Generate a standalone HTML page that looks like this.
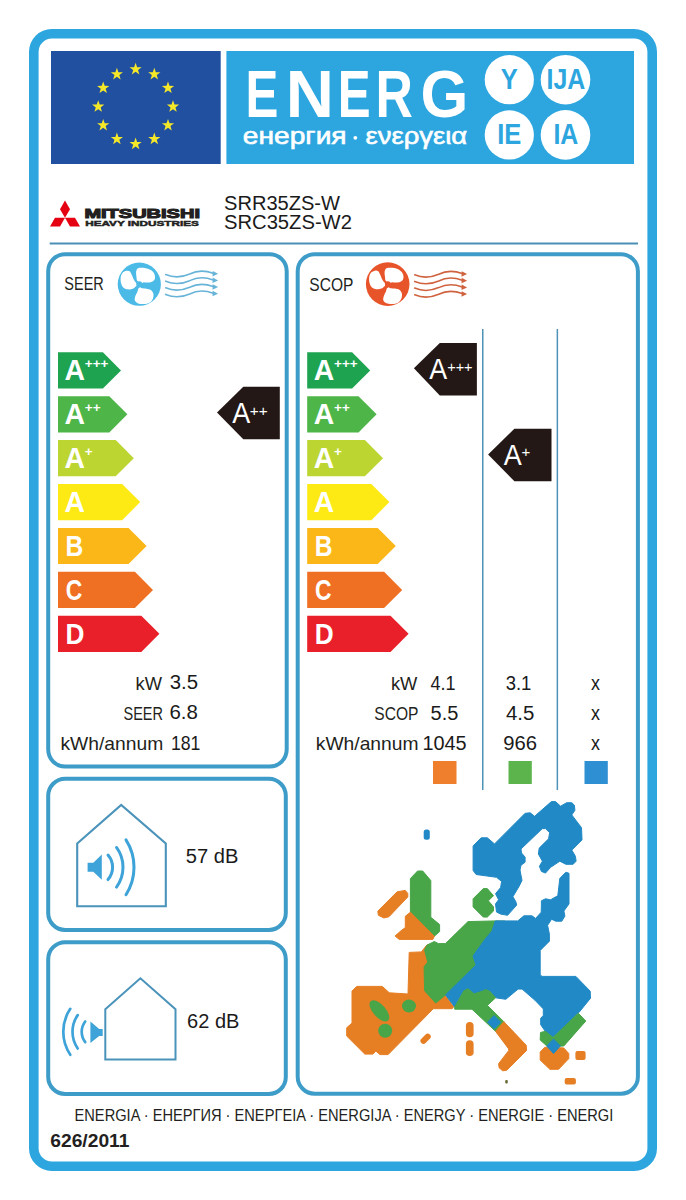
<!DOCTYPE html>
<html><head><meta charset="utf-8">
<style>
html,body{margin:0;padding:0;background:#fff;}
body{width:686px;height:1200px;overflow:hidden;}
svg{display:block;}
text{font-family:"Liberation Sans",sans-serif;}
.al{font-size:27.5px;font-weight:bold;fill:#fff;}
.sp{font-size:13.5px;font-weight:bold;fill:#fff;}
</style></head>
<body>
<svg width="686" height="1200" viewBox="0 0 686 1200">
<defs>
<path id="st" d="M0.00,-6.40 L1.50,-2.06 L6.09,-1.98 L2.43,0.79 L3.76,5.18 L0.00,2.55 L-3.76,5.18 L-2.43,0.79 L-6.09,-1.98 L-1.50,-2.06Z" fill="#f5e829"/>
<g id="fan">
<path d="M-1.92,-3.21 C-2.83,-4.28 -2.67,-6.20 -2.89,-7.70 C-3.10,-9.19 -3.37,-10.90 -3.21,-12.19 C-3.05,-13.47 -2.67,-14.70 -1.92,-15.39 C-1.18,-16.09 -0.11,-16.25 1.28,-16.36 C2.67,-16.46 4.70,-16.41 6.41,-16.04 C8.12,-15.66 10.16,-14.97 11.55,-14.11 C12.94,-13.26 14.06,-12.08 14.75,-10.90 C15.45,-9.73 15.72,-8.23 15.72,-7.06 C15.72,-5.88 15.45,-4.70 14.75,-3.85 C14.06,-2.99 12.83,-2.30 11.55,-1.92 C10.26,-1.55 8.23,-1.60 7.06,-1.60 C5.88,-1.60 5.24,-1.98 4.49,-1.92 C3.74,-1.87 3.63,-1.07 2.57,-1.28 C1.50,-1.50 -1.02,-2.14 -1.92,-3.21Z" fill="#fff"/>
<path d="M-2.89,-0.96 C-3.34,-1.84 -4.33,-2.41 -5.13,-3.85 C-5.93,-5.29 -6.95,-8.12 -7.70,-9.62 C-8.45,-11.12 -8.77,-12.19 -9.62,-12.83 C-10.48,-13.47 -11.65,-13.68 -12.83,-13.47 C-14.00,-13.26 -15.72,-12.61 -16.68,-11.55 C-17.64,-10.48 -18.33,-8.77 -18.60,-7.06 C-18.87,-5.35 -18.71,-2.99 -18.28,-1.28 C-17.85,0.43 -17.16,2.14 -16.04,3.21 C-14.91,4.28 -13.15,4.92 -11.55,5.13 C-9.94,5.35 -7.70,4.92 -6.41,4.49 C-5.13,4.06 -4.51,3.08 -3.85,2.57 C-3.19,2.05 -2.60,2.00 -2.44,1.41 C-2.28,0.82 -2.44,-0.09 -2.89,-0.96Z" fill="#fff"/>
<path d="M0.96,3.08 C1.55,3.03 1.55,3.93 2.57,4.17 C3.58,4.40 5.56,4.22 7.06,4.49 C8.55,4.76 10.37,4.92 11.55,5.77 C12.72,6.63 13.79,8.12 14.11,9.62 C14.43,11.12 14.11,13.26 13.47,14.75 C12.83,16.25 11.76,17.75 10.26,18.60 C8.77,19.46 6.41,19.78 4.49,19.88 C2.57,19.99 0.21,19.88 -1.28,19.24 C-2.78,18.60 -4.06,17.32 -4.49,16.04 C-4.92,14.75 -4.28,12.94 -3.85,11.55 C-3.42,10.16 -2.41,8.87 -1.92,7.70 C-1.44,6.52 -1.44,5.26 -0.96,4.49 C-0.48,3.72 0.37,3.13 0.96,3.08Z" fill="#fff"/>
</g>
<g id="waves">
<path d="M0,0.0 C7,3.0 16,3.0 24,-0.5 C31,-4.0 40,-4.0 47.5,-1.2" fill="none" stroke-width="1.6" stroke-linecap="round"/>
<path d="M47,-3.6 L52.4,-0.7 L46.8,1.9 Z" stroke="none"/>
<path d="M0,6.65 C7,9.65 16,9.65 24,6.15 C31,2.6500000000000004 40,2.6500000000000004 47.5,5.45" fill="none" stroke-width="1.6" stroke-linecap="round"/>
<path d="M47,3.0500000000000003 L52.4,5.95 L46.8,8.55 Z" stroke="none"/>
<path d="M0,13.3 C7,16.3 16,16.3 24,12.8 C31,9.3 40,9.3 47.5,12.100000000000001" fill="none" stroke-width="1.6" stroke-linecap="round"/>
<path d="M47,9.700000000000001 L52.4,12.600000000000001 L46.8,15.200000000000001 Z" stroke="none"/>
<path d="M0,19.95 C7,22.95 16,22.95 24,19.45 C31,15.95 40,15.95 47.5,18.75" fill="none" stroke-width="1.6" stroke-linecap="round"/>
<path d="M47,16.349999999999998 L52.4,19.25 L46.8,21.849999999999998 Z" stroke="none"/>
</g>
</defs>

<!-- outer frame -->
<rect x="33.8" y="33.8" width="618.4" height="1132.4" rx="18" ry="18" fill="none" stroke="#2da6df" stroke-width="9.6"/>

<!-- EU flag -->
<rect x="51" y="51" width="169.7" height="113" fill="#2250a0"/>
<g transform="translate(51,51)">
<use href="#st" x="84.6" y="18.2"/><use href="#st" x="103.3" y="23.2"/><use href="#st" x="117" y="36.9"/>
<use href="#st" x="122" y="55.6"/><use href="#st" x="117" y="74.3"/><use href="#st" x="103.3" y="88"/>
<use href="#st" x="84.6" y="93"/><use href="#st" x="65.9" y="88"/><use href="#st" x="52.2" y="74.3"/>
<use href="#st" x="47.2" y="55.6"/><use href="#st" x="52.2" y="36.9"/><use href="#st" x="65.9" y="23.2"/>
</g>

<!-- energy banner -->
<rect x="226.4" y="51" width="407.6" height="113" fill="#2da6df"/>
<text transform="translate(245.45,116.8) scale(0.731,1)" font-size="67.4" font-weight="bold" fill="#fff">E</text>
<text transform="translate(285.63,116.8) scale(0.990,1)" font-size="67.4" font-weight="bold" fill="#fff">N</text>
<text transform="translate(337.75,116.8) scale(0.731,1)" font-size="67.4" font-weight="bold" fill="#fff">E</text>
<text transform="translate(375.38,116.8) scale(0.768,1)" font-size="67.4" font-weight="bold" fill="#fff">R</text>
<text transform="translate(420.44,116.8) scale(0.912,1)" font-size="67.4" font-weight="bold" fill="#fff">G</text>
<text transform="translate(242.83,143.90) scale(1.164,1)" font-size="24.20" fill="#fff" stroke="#fff" stroke-width="0.6">енергия</text>
<circle cx="355.3" cy="137.8" r="1.9" fill="#fff"/>
<text transform="translate(365.44,144.10) scale(1.135,1)" font-size="24.20" fill="#fff" stroke="#fff" stroke-width="0.6">ενεργεια</text>
<g fill="#fff">
<circle cx="509.3" cy="79.7" r="24.6"/><circle cx="565.5" cy="79.7" r="24.8"/>
<circle cx="509.3" cy="134.9" r="24.6"/><circle cx="565.5" cy="134.9" r="24.8"/>
</g>
<g fill="#2da6df" font-size="29" font-weight="bold" text-anchor="middle">
<text transform="translate(509.2,88.9) scale(0.88,1)">Y</text><text transform="translate(565.9,88.9) scale(0.86,1)">IJA</text>
<text transform="translate(509.2,144) scale(0.88,1)">IE</text><text transform="translate(565.9,144) scale(0.86,1)">IA</text>
</g>

<!-- Mitsubishi logo -->
<g fill="#e50012" transform="translate(65,217.8)">
<path d="M0,-17.32 L5,-8.66 L0,0 L-5,-8.66 Z"/>
<path d="M0,0 L10,0 L15,8.66 L5,8.66 Z"/>
<path d="M0,0 L-10,0 L-15,8.66 L-5,8.66 Z"/>
</g>
<text transform="translate(84.40,217.97) scale(1.597,1)" font-size="12.54" font-weight="bold" fill="#231f20" stroke="#231f20" stroke-width="1.0">MITSUBISHI</text>
<text transform="translate(85.19,226.37) scale(1.463,1)" font-size="8.03" font-weight="bold" fill="#231f20" stroke="#231f20" stroke-width="0.5">HEAVY INDUSTRIES</text>

<!-- model -->
<text transform="translate(224.00,209.89) scale(0.977,1)" font-size="20.56" fill="#1a1a1a">SRR35ZS-W</text>
<text transform="translate(223.99,229.20) scale(1.010,1)" font-size="20.00" fill="#1a1a1a">SRC35ZS-W2</text>
<rect x="49.7" y="242.5" width="588.3" height="2" fill="#4a8fb6"/>

<!-- panels -->
<g fill="none" stroke="#3e9cc8" stroke-width="4">
<rect x="48.2" y="254.2" width="238.5" height="512.4" rx="17"/>
<rect x="297.7" y="254.2" width="340.2" height="839.5" rx="17"/>
<rect x="48.2" y="778.8" width="237.6" height="151.2" rx="17"/>
<rect x="48.2" y="942.2" width="237.6" height="151.8" rx="17"/>
</g>

<!-- SEER header -->
<text transform="translate(64.35,290.42) scale(0.804,1)" font-size="18.03" fill="#231f20">SEER</text>
<circle cx="139.3" cy="284.2" r="21.6" fill="#4bbae6"/>
<use href="#fan" transform="translate(139.3,284.2)"/>
<circle cx="139.3" cy="284.2" r="2.9" fill="#4bbae6"/>
<g stroke="#68b4d8" fill="#68b4d8"><use href="#waves" transform="translate(165.7,274.5)"/></g>

<!-- SCOP header -->
<text transform="translate(309.30,290.62) scale(0.862,1)" font-size="18.03" fill="#231f20">SCOP</text>
<circle cx="387.7" cy="284.1" r="21.8" fill="#e8542a"/>
<use href="#fan" transform="translate(387.8,284.1)"/>
<circle cx="387.8" cy="284.1" r="2.9" fill="#e8542a"/>
<g stroke="#d0633f" fill="#d0633f"><use href="#waves" transform="translate(414.7,274.8)"/></g>

<!-- column lines -->
<g fill="#4e92b8"><rect x="482" y="329" width="1.5" height="461"/><rect x="556.6" y="329" width="1.5" height="461"/></g>

<!-- arrows -->
<path d="M58,352.3 H102.9 L121.0,370.4 L102.9,388.5 H58 Z" fill="#1ea351"/>
<text transform="translate(64.59,380.30) scale(0.978,1)" font-size="29.00" font-weight="bold" fill="#fff">A</text>
<text x="84.8" y="367.7" class="sp">+++</text>
<path d="M58,396.2 H109.3 L127.4,414.3 L109.3,432.4 H58 Z" fill="#4eb548"/>
<text transform="translate(64.59,424.20) scale(0.978,1)" font-size="29.00" font-weight="bold" fill="#fff">A</text>
<text x="84.8" y="411.6" class="sp">++</text>
<path d="M58,440.1 H115.7 L133.8,458.2 L115.7,476.3 H58 Z" fill="#bdd531"/>
<text transform="translate(64.59,468.10) scale(0.978,1)" font-size="29.00" font-weight="bold" fill="#fff">A</text>
<text x="84.8" y="455.5" class="sp">+</text>
<path d="M58,484.0 H122.1 L140.2,502.1 L122.1,520.2 H58 Z" fill="#fdea14"/>
<text transform="translate(64.59,512.00) scale(0.978,1)" font-size="29.00" font-weight="bold" fill="#fff">A</text>
<path d="M58,527.9 H128.5 L146.6,546.0 L128.5,564.1 H58 Z" fill="#fbb618"/>
<text transform="translate(65.60,555.90) scale(0.848,1)" font-size="29.00" font-weight="bold" fill="#fff">B</text>
<path d="M58,571.8 H134.9 L153.0,589.9 L134.9,608.0 H58 Z" fill="#f07023"/>
<text transform="translate(65.78,599.50) scale(0.790,1)" font-size="29.00" font-weight="bold" fill="#fff">C</text>
<path d="M58,615.7 H141.3 L159.4,633.8 L141.3,651.9 H58 Z" fill="#e9202a"/>
<text transform="translate(65.50,643.70) scale(0.903,1)" font-size="29.00" font-weight="bold" fill="#fff">D</text>
<path d="M307.2,352.3 H352.1 L370.2,370.4 L352.1,388.5 H307.2 Z" fill="#1ea351"/>
<text transform="translate(313.79,380.30) scale(0.978,1)" font-size="29.00" font-weight="bold" fill="#fff">A</text>
<text x="334.0" y="367.7" class="sp">+++</text>
<path d="M307.2,396.2 H358.5 L376.6,414.3 L358.5,432.4 H307.2 Z" fill="#4eb548"/>
<text transform="translate(313.79,424.20) scale(0.978,1)" font-size="29.00" font-weight="bold" fill="#fff">A</text>
<text x="334.0" y="411.6" class="sp">++</text>
<path d="M307.2,440.1 H364.9 L383.0,458.2 L364.9,476.3 H307.2 Z" fill="#bdd531"/>
<text transform="translate(313.79,468.10) scale(0.978,1)" font-size="29.00" font-weight="bold" fill="#fff">A</text>
<text x="334.0" y="455.5" class="sp">+</text>
<path d="M307.2,484.0 H371.3 L389.4,502.1 L371.3,520.2 H307.2 Z" fill="#fdea14"/>
<text transform="translate(313.79,512.00) scale(0.978,1)" font-size="29.00" font-weight="bold" fill="#fff">A</text>
<path d="M307.2,527.9 H377.7 L395.8,546.0 L377.7,564.1 H307.2 Z" fill="#fbb618"/>
<text transform="translate(314.80,555.90) scale(0.848,1)" font-size="29.00" font-weight="bold" fill="#fff">B</text>
<path d="M307.2,571.8 H384.1 L402.2,589.9 L384.1,608.0 H307.2 Z" fill="#f07023"/>
<text transform="translate(314.98,599.50) scale(0.790,1)" font-size="29.00" font-weight="bold" fill="#fff">C</text>
<path d="M307.2,615.7 H390.5 L408.6,633.8 L390.5,651.9 H307.2 Z" fill="#e9202a"/>
<text transform="translate(314.70,643.70) scale(0.903,1)" font-size="29.00" font-weight="bold" fill="#fff">D</text>

<!-- pointers -->
<g fill="#231815">
<path d="M217,412.4 L243.3,386.8 H279.8 V439.3 H243.3 Z"/>
<path d="M413.9,368.3 L439.8,343.1 H476.9 V395.6 H439.8 Z"/>
<path d="M488.1,454.4 L514.4,428.8 H551.5 V481.3 H514.4 Z"/>
</g>
<g>
<text transform="translate(232.17,422.70) scale(0.912,1)" font-size="29.57" fill="#fff">A</text>
<text transform="translate(249.73,415.60) scale(1.022,1)" font-size="15.00" fill="#fff">++</text>
<text transform="translate(429.27,378.50) scale(0.903,1)" font-size="29.71" fill="#fff">A</text>
<text transform="translate(447.17,372.20) scale(0.967,1)" font-size="15.00" fill="#fff">+++</text>
<text transform="translate(503.67,464.80) scale(0.908,1)" font-size="29.71" fill="#fff">A</text>
<text transform="translate(521.45,457.30) scale(1.003,1)" font-size="15.00" fill="#fff">+</text>
</g>

<!-- values -->
<text transform="translate(135.61,689.60) scale(1.030,1)" font-size="17.80" fill="#231f20">kW</text>
<text transform="translate(123.45,719.80) scale(0.816,1)" font-size="17.80" fill="#231f20">SEER</text>
<text transform="translate(60.45,749.60) scale(1.083,1)" font-size="17.80" fill="#231f20">kWh/annum</text>
<text transform="translate(390.91,690.00) scale(1.030,1)" font-size="17.80" fill="#231f20">kW</text>
<text transform="translate(374.30,720.20) scale(0.875,1)" font-size="17.80" fill="#231f20">SCOP</text>
<text transform="translate(315.75,750.20) scale(1.083,1)" font-size="17.80" fill="#231f20">kWh/annum</text>
<text transform="translate(169.68,688.50) scale(1.004,1)" font-size="20.30" fill="#1a1a1a">3.5</text>
<text transform="translate(169.48,718.70) scale(1.008,1)" font-size="20.30" fill="#1a1a1a">6.8</text>
<text transform="translate(170.88,749.90) scale(0.870,1)" font-size="20.30" fill="#1a1a1a">181</text>
<text transform="translate(430.45,690.40) scale(0.888,1)" font-size="20.30" fill="#1a1a1a">4.1</text>
<text transform="translate(430.60,720.10) scale(0.985,1)" font-size="20.30" fill="#1a1a1a">5.5</text>
<text transform="translate(422.41,749.90) scale(0.981,1)" font-size="20.30" fill="#1a1a1a">1045</text>
<text transform="translate(505.66,690.40) scale(0.909,1)" font-size="20.30" fill="#1a1a1a">3.1</text>
<text transform="translate(505.89,720.10) scale(1.008,1)" font-size="20.30" fill="#1a1a1a">4.5</text>
<text transform="translate(503.29,749.90) scale(0.998,1)" font-size="20.30" fill="#1a1a1a">966</text>
<text transform="translate(591.03,690.40) scale(0.882,1)" font-size="20.30" fill="#1a1a1a">x</text>
<text transform="translate(591.03,719.90) scale(0.882,1)" font-size="20.30" fill="#1a1a1a">x</text>
<text transform="translate(591.03,749.90) scale(0.882,1)" font-size="20.30" fill="#1a1a1a">x</text>
<rect x="433" y="761" width="23.5" height="23" fill="#ef7f2d"/>
<rect x="508.5" y="761" width="23.3" height="23" fill="#5cb54c"/>
<rect x="584.5" y="761" width="23.3" height="23" fill="#2f8fd3"/>

<!-- noise 1 -->
<path d="M77.2,843.5 L121.2,805 L165.8,843.5 V906.2 H77.2 Z" fill="none" stroke="#4a93ba" stroke-width="2.1" stroke-linejoin="miter"/>
<path d="M87.6,862.7 H93.3 L101.8,854.5 V879.8 L93.3,871.7 H87.6 Z" fill="#3ea3d8"/>
<g fill="none" stroke="#3ea3d8" stroke-width="3" stroke-linecap="round">
<path d="M107.99,855.05 A18.6,18.6 0 0 1 107.99,879.55"/>
<path d="M116.51,847.46 A33.6,33.6 0 0 1 116.51,887.14"/>
<path d="M126.00,839.84 A51.1,51.1 0 0 1 126.00,894.76"/>
</g>
<text transform="translate(185.80,863.30) scale(0.967,1)" font-size="20.80" fill="#1a1a1a">57 dB</text>

<!-- noise 2 -->
<path d="M105.3,1009.3 L140.4,978.3 L175.5,1009.3 V1059.5 H105.3 Z" fill="none" stroke="#4a93ba" stroke-width="2" stroke-linejoin="miter"/>
<path d="M102.7,1028.9 H99.2 L90.4,1021.4 V1042.9 L99.2,1035.9 H102.7 Z" fill="#3ea3d8"/>
<g fill="none" stroke="#3ea3d8" stroke-width="2.7" stroke-linecap="round">
<path d="M85.21,1021.45 A17,17 0 0 0 85.21,1042.15"/>
<path d="M77.72,1015.14 A29.2,29.2 0 0 0 77.72,1048.46"/>
<path d="M70.28,1008.82 A41.3,41.3 0 0 0 70.28,1054.78"/>
</g>
<text transform="translate(187.10,1028.00) scale(0.962,1)" font-size="20.80" fill="#1a1a1a">62 dB</text>

<!-- MAP -->
<g id="map">
<path d="M352.0,991.1 L356.7,986.4 L382.3,986.4 L389.3,992.8 L408.0,994.0 L409.2,952.4 L421.4,951.9 L426.5,945.3 L430.0,944.0 L440.0,960.0 L445.0,995.0 L453.7,1007.1 L452.0,1008.7 L433.3,1008.7 L388.1,1054.6 L380.0,1054.6 L375.9,1051.1 L373.0,1054.1 L364.8,1054.1 L346.7,1036.0 L346.7,1027.8 L352.0,1023.1 Z" fill="#e67e24" stroke="#e67e24" stroke-width="1" stroke-linejoin="round" />
<path d="M427.1,945.1 L434.3,941.5 L438.4,943.6 L445.5,943.6 L468.0,921.6 L495.3,920.9 L505.0,921.0 L505.0,960.0 L447.0,994.0 L445.5,994.9 L435.8,1003.1 L424.6,990.8 L424.1,966.8 L427.7,962.2 L424.6,950.0 Z" fill="#48a548" stroke="#48a548" stroke-width="1" stroke-linejoin="round" />
<path d="M495.3,920.9 L517.8,920.9 L523.9,915.8 L532.0,915.8 L535.6,918.4 L541.2,912.2 L541.4,904.9 L541.4,900.8 L545.5,898.8 L550.6,899.8 L557.8,895.7 L559.8,878.4 L565.9,872.2 L569.0,873.3 L569.0,903.9 L563.9,911.0 L564.9,916.1 L561.8,921.2 L555.7,921.2 L551.6,919.2 L547.6,925.3 L549.4,934.1 L549.4,941.2 L540.2,950.4 L540.2,974.9 L542.2,976.4 L575.9,976.4 L590.2,991.2 L590.5,998.2 L579.0,1012.4 L553.0,1037.5 L545.4,1031.5 L540.7,1024.7 L540.7,1018.1 L543.3,1015.5 L543.3,1008.9 L535.0,1000.3 L522.1,989.1 L518.1,989.1 L505.8,999.3 L495.6,997.8 L489.5,991.1 L483.3,990.8 L474.1,993.9 L468.0,988.8 L463.9,990.8 L454.7,1007.1 L445.5,994.9 L476.0,965.0 L473.0,956.0 L478.0,949.0 L486.0,938.0 L492.0,931.0 Z" fill="#2189c5" stroke="#2189c5" stroke-width="1" stroke-linejoin="round" />
<path d="M473.1,870.4 L473.1,845.9 L481.2,837.8 L487.3,837.8 L494.5,843.9 L525.1,813.3 L530.2,812.8 L534.6,816.3 L551.4,801.6 L555.5,801.6 L560.6,806.2 L566.7,802.7 L571.8,802.7 L574.4,805.2 L574.9,810.3 L571.8,814.9 L581.5,827.7 L582.0,839.9 L571.8,850.1 L575.4,856.2 L576.1,861.2 L573.1,864.3 L565.9,864.3 L559.8,861.2 L550.6,867.3 L545.5,873.1 L541.4,871.4 L539.4,866.3 L542.4,861.2 L538.4,854.1 L539.2,848.1 L548.6,838.8 L549.6,832.7 L545.5,828.6 L542.2,828.7 L521.0,849.0 L521.5,853.0 L525.1,857.1 L525.1,862.2 L521.0,865.3 L520.0,870.0 L521.0,875.3 L522.0,880.4 L519.0,886.5 L512.9,896.7 L515.9,901.8 L516.7,905.1 L507.6,915.3 L500.6,914.1 L496.5,912.0 L495.5,903.9 L498.6,899.8 L495.5,893.7 L500.6,887.6 L501.6,881.4 L496.5,877.3 L476.1,874.5 Z" fill="#2189c5" stroke="#2189c5" stroke-width="1" stroke-linejoin="round" />
<path d="M473.1,898.8 L483.3,888.6 L487.3,888.6 L493.5,895.7 L488.4,900.8 L493.5,906.9 L493.5,911.0 L487.3,917.1 L483.3,917.1 L473.1,906.9 Z" fill="#48a548" stroke="#48a548" stroke-width="1" stroke-linejoin="round" />
<path d="M377.8,911.2 L397.1,891.8 L405.3,890.4 L407.8,893.5 L407.8,896.9 L389.0,916.7 L383.9,918.0 L378.4,915.3 Z" fill="#e67e24" stroke="#e67e24" stroke-width="1" stroke-linejoin="round" />
<path d="M410.4,878.6 L417.6,871.0 L422.7,871.0 L430.8,880.6 L430.8,917.3 L439.6,924.5 L439.6,931.6 L434.3,936.3 L410.4,912.2 Z" fill="#48a548" stroke="#48a548" stroke-width="1" stroke-linejoin="round" />
<path d="M410.4,912.2 L434.3,936.3 L432.9,939.4 L399.2,939.4 L395.1,936.0 L401.2,930.6 L405.3,927.6 L405.3,916.3 Z" fill="#e67e24" stroke="#e67e24" stroke-width="1" stroke-linejoin="round" />
<path d="M454.7,1007.1 L463.9,990.8 L468.0,988.8 L474.1,993.9 L483.3,990.8 L485.4,989.6 L489.5,991.1 L495.6,997.8 L487.4,1005.4 L503.8,1021.7 L495.6,1031.4 L472.0,1009.2 L454.7,1009.2 Z" fill="#48a548" stroke="#48a548" stroke-width="1" stroke-linejoin="round" />
<path d="M503.8,1021.7 L526.2,1045.2 L526.6,1050.4 L506.7,1070.3 L502.7,1070.8 L499.1,1067.8 L498.6,1063.7 L508.8,1050.4 L508.3,1048.4 L495.6,1031.4 Z" fill="#e67e24" stroke="#e67e24" stroke-width="1" stroke-linejoin="round" />
<path d="M494.1,1015.6 L500.7,1022.2 L494.1,1028.8 L487.5,1022.2 Z" fill="#2189c5" stroke="#2189c5" stroke-width="1" stroke-linejoin="round" />
<path d="M578.3,1013.2 L585.8,1021.0 L563.9,1045.9 L548.0,1047.0 L540.2,1040.0 L540.5,1032.5 L545.4,1031.3 L553.0,1037.5 Z" fill="#48a548" stroke="#48a548" stroke-width="1" stroke-linejoin="round" />
<path d="M544.8,1047.3 L563.7,1047.9 L568.8,1053.5 L568.8,1058.6 L558.6,1069.3 L549.9,1069.3 L540.2,1060.1 L540.2,1051.9 Z" fill="#e67e24" stroke="#e67e24" stroke-width="1" stroke-linejoin="round" />
<path d="M553.5,1039.0 L560.3,1046.0 L553.5,1053.5 L546.7,1046.0 Z" fill="#2189c5" stroke="#2189c5" stroke-width="1" stroke-linejoin="round" />
<rect x="575.4" y="1050.9" width="10.2" height="9.2" rx="2" fill="#e67e24"/>
<rect x="564.7" y="1078" width="11.2" height="6.6" rx="2" fill="#e67e24"/>
<rect x="505.2" y="1080" width="2.6" height="3.4" rx="1" fill="#6b6b3a"/>
<rect x="465.9" y="1021.9" width="7.7" height="15.3" rx="3.8" fill="#e67e24"/>
<rect x="465.9" y="1040.3" width="7.7" height="15.8" rx="3.8" fill="#e67e24"/>
<rect x="-6" y="-3" width="12" height="6" rx="3" fill="#e67e24" transform="translate(425.6,1038.8) rotate(-45)"/>
<rect x="423.7" y="829.6" width="6.1" height="10.2" rx="2.5" fill="#2189c5"/>
<ellipse cx="379.4" cy="1010.9" rx="13" ry="6.3" fill="#48a548" transform="rotate(48 379.4 1010.9)"/>
<ellipse cx="409" cy="1006" rx="7" ry="6.5" fill="#48a548"/>
<ellipse cx="385.2" cy="1030.7" rx="7" ry="7" fill="#48a548"/>

</g>

<!-- footer -->
<text transform="translate(74.53,1120.70) scale(0.899,1)" font-size="16.30" fill="#231f20">ENERGIA · ЕНЕРГИЯ · ΕΝΕΡΓΕΙΑ · ENERGIJA · ENERGY · ENERGIE · ENERGI</text>
<text transform="translate(50.23,1147.00) scale(1.076,1)" font-size="17.90" font-weight="bold" fill="#231f20">626/2011</text>

</svg>
</body></html>
